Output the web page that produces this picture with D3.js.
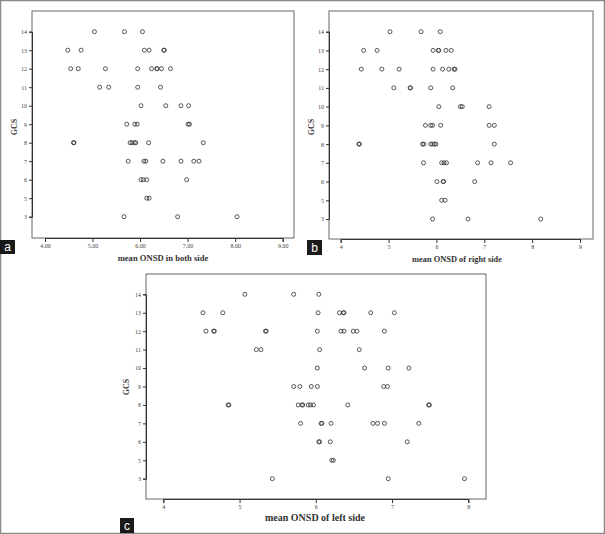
<!DOCTYPE html>
<html><head><meta charset="utf-8">
<script src="https://cdn.jsdelivr.net/npm/d3@7"></script>
<style>
html,body{margin:0;padding:0;background:#fff;}
svg{display:block;}
</style></head>
<body>
<svg id="chart" width="605" height="534"></svg>
<script>
// GCS categories (ordinal, equally spaced)
const gcsLevels = ["3","5","6","7","8","9","10","11","12","13","14"];
const ticksA = [4,5,6,7,8,9];
const ticksB = [4,5,6,7,8,9];
const ticksC = [4,5,6,7,8];
const titles = ["mean ONSD in both side","mean ONSD of right side","mean ONSD of left side"];
const panelLetters = ["a","b","c"];

// [GCS, ONSD]
const bothSide = [
 [14,5.04],[14,5.67],[14,6.05],
 [13,4.48],[13,4.76],[13,6.09],[13,6.19],[13,6.50],[13,6.51],
 [12,4.54],[12,4.70],[12,5.27],[12,5.95],[12,6.24],[12,6.35],[12,6.36],[12,6.45],[12,6.64],
 [11,5.15],[11,5.34],[11,5.95],[11,6.43],
 [10,6.02],[10,6.54],[10,6.86],[10,7.02],
 [9,5.72],[9,5.89],[9,5.94],[9,7.01],[9,7.04],
 [8,4.60],[8,4.61],[8,5.79],[8,5.83],[8,5.88],[8,5.91],[8,6.18],[8,7.33],
 [7,5.75],[7,6.08],[7,6.12],[7,6.48],[7,6.86],[7,7.13],[7,7.24],
 [6,6.02],[6,6.07],[6,6.14],[6,6.98],
 [5,6.14],[5,6.19],
 [3,5.66],[3,6.79],[3,8.04]
];
const rightSide = [
 [14,5.03],[14,5.68],[14,6.08],
 [13,4.48],[13,4.76],[13,5.93],[13,6.04],[13,6.05],[13,6.20],[13,6.31],
 [12,4.43],[12,4.86],[12,5.22],[12,5.93],[12,6.13],[12,6.26],[12,6.37],[12,6.39],
 [11,5.11],[11,5.45],[11,5.46],[11,5.88],[11,6.34],
 [10,6.05],[10,6.50],[10,6.54],[10,7.10],
 [9,5.77],[9,5.88],[9,5.92],[9,6.09],[9,7.10],[9,7.21],
 [8,4.38],[8,4.39],[8,5.71],[8,5.74],[8,5.88],[8,5.92],[8,5.96],[8,5.99],[8,7.21],
 [7,5.73],[7,6.11],[7,6.16],[7,6.21],[7,6.86],[7,7.14],[7,7.55],
 [6,6.01],[6,6.14],[6,6.15],[6,6.80],
 [5,6.11],[5,6.18],
 [3,5.92],[3,6.66],[3,8.18]
];
const leftSide = [
 [14,5.07],[14,5.71],[14,6.04],
 [13,4.52],[13,4.78],[13,6.03],[13,6.31],[13,6.36],[13,6.37],[13,6.72],[13,7.03],
 [12,4.56],[12,4.66],[12,4.67],[12,5.34],[12,5.35],[12,6.02],[12,6.33],[12,6.37],[12,6.49],[12,6.54],[12,6.90],
 [11,5.22],[11,5.28],[11,6.05],[11,6.57],
 [10,6.02],[10,6.64],[10,6.95],[10,7.22],
 [9,5.71],[9,5.79],[9,5.94],[9,6.02],[9,6.89],[9,6.94],
 [8,4.85],[8,4.86],[8,5.77],[8,5.82],[8,5.83],[8,5.90],[8,5.93],[8,5.97],[8,6.42],[8,7.48],[8,7.49],
 [7,5.80],[7,6.07],[7,6.08],[7,6.20],[7,6.75],[7,6.81],[7,6.90],[7,7.35],
 [6,6.04],[6,6.05],[6,6.19],[6,7.20],
 [5,6.21],[5,6.23],
 [3,5.43],[3,6.95],[3,7.95]
];

const svg = d3.select("#chart");
svg.append("rect").attr("x",0.5).attr("y",0.5).attr("width",604).attr("height",533)
  .attr("fill","#fff").attr("stroke","#8a8a8a").attr("stroke-width",1.5);

const serif = "'Liberation Serif','DejaVu Serif',serif";

const panels = [
 {data:bothSide, ticks:ticksA, fmt:d3.format(".2f"), frame:[32,11,294,238], x0:45, x1:282.7, d0:4, d1:9, y14:31.7, y3:216.7,
  title:titles[0], tx:163, ty:261, tfs:8.6, gx:14, gy:127, letter:panelLetters[0], lb:[0,240,15,14]},
 {data:rightSide, ticks:ticksB, fmt:d3.format("d"), frame:[329,11,593,239], x0:340.7, x1:580, d0:4, d1:9, y14:31.7, y3:219,
  title:titles[1], tx:457, ty:262, tfs:8.4, gx:311, gy:127, letter:panelLetters[1], lb:[307,240,15,15]},
 {data:leftSide, ticks:ticksC, fmt:d3.format("d"), frame:[146,274,486,499], x0:163.3, x1:468.3, d0:4, d1:8, y14:294.3, y3:478.7,
  title:titles[2], tx:315, ty:521, tfs:10, gx:126, gy:387, letter:panelLetters[2], lb:[120,518,14,15]}
];

panels.forEach(p => {
  const [fl,ft,fr,fb] = p.frame;
  const x = d3.scaleLinear().domain([p.d0,p.d1]).range([p.x0,p.x1]);
  const y = d3.scalePoint().domain(gcsLevels).range([p.y3,p.y14]);
  const g = svg.append("g");
  g.append("rect").attr("x",fl).attr("y",ft).attr("width",fr-fl).attr("height",fb-ft)
    .attr("fill","none").attr("stroke","#666").attr("stroke-width",1);
  // x axis
  const xa = g.append("g").attr("transform",`translate(0,${fb})`)
    .call(d3.axisBottom(x).tickValues(p.ticks).tickFormat(p.fmt).tickSize(4).tickPadding(2));
  xa.select(".domain").attr("stroke","#333");
  xa.selectAll("line").attr("stroke","#333");
  xa.selectAll("text").attr("font-family",serif).attr("font-size",6).attr("fill","#444");
  // y axis
  const ya = g.append("g").attr("transform",`translate(${fl},0)`)
    .call(d3.axisLeft(y).tickSize(3).tickPadding(2));
  ya.select(".domain").attr("stroke","#333");
  ya.selectAll("line").attr("stroke","#333");
  ya.selectAll("text").attr("font-family",serif).attr("font-size",6).attr("fill","#444");
  // points
  g.selectAll("circle.pt").data(p.data).join("circle").attr("class","pt")
    .attr("cx",d=>x(d[1])).attr("cy",d=>y(String(d[0]))).attr("r",2)
    .attr("fill","none").attr("stroke","#3a3a3a").attr("stroke-width",0.85);
  // titles
  g.append("text").attr("x",p.tx).attr("y",p.ty).attr("text-anchor","middle")
    .attr("font-family",serif).attr("font-weight","bold").attr("font-size",p.tfs).attr("fill","#333").text(p.title);
  g.append("text").attr("transform",`translate(${p.gx},${p.gy}) rotate(-90)`).attr("text-anchor","middle")
    .attr("dy","0.35em").attr("font-family",serif).attr("font-weight","bold").attr("font-size",8).attr("fill","#333").text("GCS");
  // panel letter
  const [lx,ly,lw,lh] = p.lb;
  g.append("rect").attr("x",lx).attr("y",ly).attr("width",lw).attr("height",lh).attr("fill","#1a1a1a");
  g.append("text").attr("x",lx+lw/2).attr("y",ly+lh/2).attr("dy","0.36em").attr("text-anchor","middle")
    .attr("font-family","'Liberation Sans','DejaVu Sans',sans-serif").attr("font-size",12).attr("fill","#fff").text(p.letter);
});
</script>
</body></html>
